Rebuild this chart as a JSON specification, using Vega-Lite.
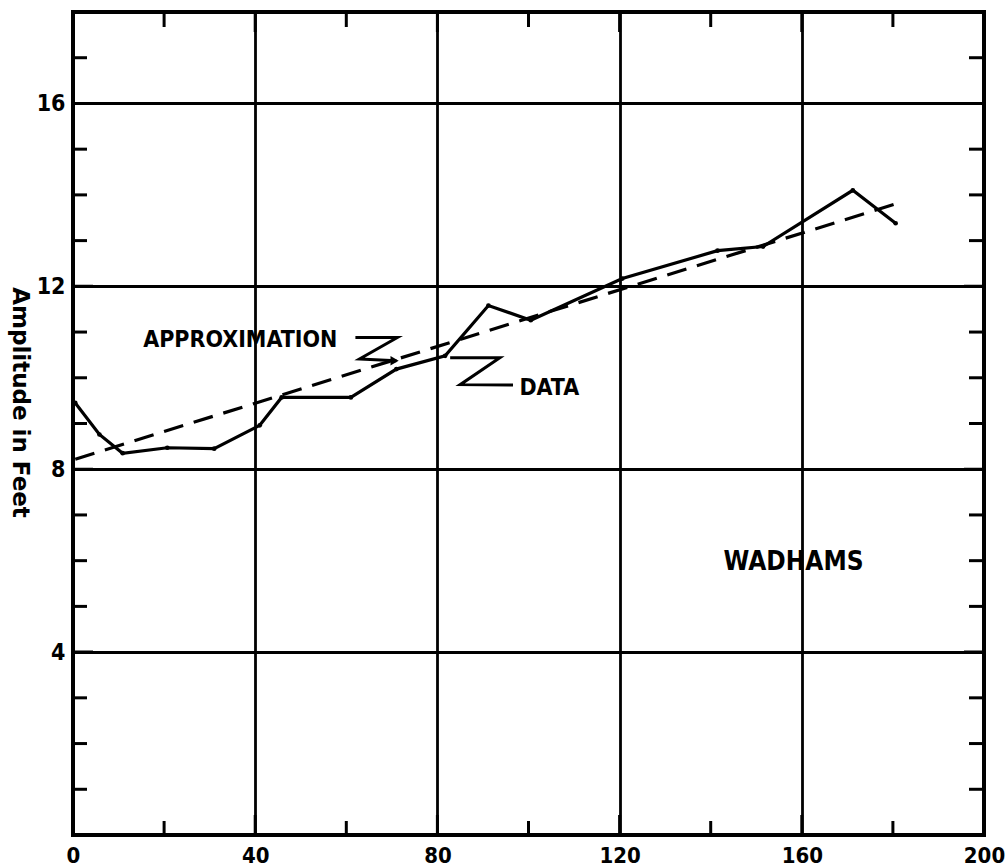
{
  "$schema": "https://vega.github.io/schema/vega-lite/v6.json",
  "width": 911,
  "height": 823,
  "autosize": {"type": "none"},
  "padding": {"left": 73, "top": 12, "right": 24, "bottom": 31},
  "background": "white",
  "config": {
    "view": {"stroke": "black", "strokeWidth": 4},
    "font": "DejaVu Sans"
  },
  "datasets": {
    "observed": [
      {"x": 0.5, "amplitude": 9.45},
      {"x": 5.8, "amplitude": 8.76},
      {"x": 10.9, "amplitude": 8.35},
      {"x": 20.7, "amplitude": 8.47},
      {"x": 31, "amplitude": 8.45},
      {"x": 41, "amplitude": 8.96},
      {"x": 45.8, "amplitude": 9.57},
      {"x": 61, "amplitude": 9.57},
      {"x": 71, "amplitude": 10.19},
      {"x": 81.7, "amplitude": 10.48},
      {"x": 91.2, "amplitude": 11.58},
      {"x": 100.5, "amplitude": 11.26},
      {"x": 120.6, "amplitude": 12.17},
      {"x": 141.5, "amplitude": 12.78},
      {"x": 151.5, "amplitude": 12.87},
      {"x": 171.2, "amplitude": 14.1},
      {"x": 180.6, "amplitude": 13.38}
    ],
    "approximation": [
      {"x": 0.5, "amplitude": 8.22},
      {"x": 181.5, "amplitude": 13.83}
    ],
    "xticks": [
      {"x": 20, "major": false},
      {"x": 40, "major": true},
      {"x": 60, "major": false},
      {"x": 80, "major": true},
      {"x": 100, "major": false},
      {"x": 120, "major": true},
      {"x": 140, "major": false},
      {"x": 160, "major": true},
      {"x": 180, "major": false}
    ],
    "yticks": [
      {"amplitude": 1, "major": false},
      {"amplitude": 2, "major": false},
      {"amplitude": 3, "major": false},
      {"amplitude": 4, "major": true},
      {"amplitude": 5, "major": false},
      {"amplitude": 6, "major": false},
      {"amplitude": 7, "major": false},
      {"amplitude": 8, "major": true},
      {"amplitude": 9, "major": false},
      {"amplitude": 10, "major": false},
      {"amplitude": 11, "major": false},
      {"amplitude": 12, "major": true},
      {"amplitude": 13, "major": false},
      {"amplitude": 14, "major": false},
      {"amplitude": 15, "major": false},
      {"amplitude": 16, "major": true},
      {"amplitude": 17, "major": false}
    ],
    "leaders": [
      {"leader": "approximation", "step": 1, "x": 62.0, "amplitude": 10.88},
      {"leader": "approximation", "step": 2, "x": 71.2, "amplitude": 10.88},
      {"leader": "approximation", "step": 3, "x": 62.9, "amplitude": 10.41},
      {"leader": "approximation", "step": 4, "x": 71.0, "amplitude": 10.37},
      {"leader": "data", "step": 1, "x": 82.8, "amplitude": 10.44},
      {"leader": "data", "step": 2, "x": 93.7, "amplitude": 10.44},
      {"leader": "data", "step": 3, "x": 85.0, "amplitude": 9.85},
      {"leader": "data", "step": 4, "x": 96.6, "amplitude": 9.84}
    ],
    "arrowheads": [
      {"x": 70.6, "amplitude": 10.37}
    ],
    "labels": [
      {"label": "APPROXIMATION", "x": 15.4, "amplitude": 10.82},
      {"label": "DATA", "x": 98.0, "amplitude": 9.78}
    ],
    "station": [
      {"label": "WADHAMS", "x": 158.2, "amplitude": 5.97}
    ]
  },
  "layer": [
    {
      "data": {"name": "observed"},
      "mark": {
        "type": "line",
        "color": "black",
        "strokeWidth": 3.2,
        "point": {"filled": true, "color": "black", "size": 22}
      },
      "encoding": {
        "x": {
          "field": "x",
          "type": "quantitative",
          "scale": {"domain": [0, 200], "nice": false, "zero": false},
          "axis": {
            "values": [0, 40, 80, 120, 160, 200],
            "title": null,
            "ticks": false,
            "domain": false,
            "grid": true,
            "gridColor": "black",
            "gridWidth": 2.8,
            "gridOpacity": 1,
            "labelFont": "DejaVu Sans Condensed",
            "labelFontWeight": "bold",
            "labelFontSize": 22,
            "labelColor": "black",
            "labelPadding": 10,
            "labelFlush": false,
            "labelOverlap": false
          }
        },
        "y": {
          "field": "amplitude",
          "type": "quantitative",
          "scale": {"domain": [0, 18], "nice": false, "zero": false},
          "axis": {
            "values": [4, 8, 12, 16],
            "title": "Amplitude in Feet",
            "titleAngle": 90,
            "titleX": -54,
            "titleY": 390,
            "titleAlign": "center",
            "titleBaseline": "middle",
            "titleFont": "DejaVu Sans",
            "titleFontWeight": "bold",
            "titleFontSize": 23,
            "titleColor": "black",
            "ticks": false,
            "domain": false,
            "grid": true,
            "gridColor": "black",
            "gridWidth": 2.8,
            "gridOpacity": 1,
            "labelFont": "DejaVu Sans Condensed",
            "labelFontWeight": "bold",
            "labelFontSize": 23,
            "labelColor": "black",
            "labelPadding": 8,
            "labelFlush": false,
            "labelOverlap": false
          }
        }
      }
    },
    {
      "data": {"name": "approximation"},
      "mark": {"type": "line", "color": "black", "strokeWidth": 3.2, "strokeDash": [20, 11]},
      "encoding": {
        "x": {"field": "x", "type": "quantitative", "scale": {"domain": [0, 200], "nice": false, "zero": false}},
        "y": {"field": "amplitude", "type": "quantitative", "scale": {"domain": [0, 18], "nice": false, "zero": false}}
      }
    },
    {
      "data": {"name": "leaders"},
      "mark": {"type": "line", "color": "black", "strokeWidth": 3, "strokeJoin": "miter"},
      "encoding": {
        "x": {"field": "x", "type": "quantitative", "scale": {"domain": [0, 200], "nice": false, "zero": false}},
        "y": {"field": "amplitude", "type": "quantitative", "scale": {"domain": [0, 18], "nice": false, "zero": false}},
        "detail": {"field": "leader", "type": "nominal"},
        "order": {"field": "step", "type": "quantitative"}
      }
    },
    {
      "data": {"name": "arrowheads"},
      "mark": {"type": "point", "shape": "triangle-right", "filled": true, "color": "black", "size": 90, "opacity": 1},
      "encoding": {
        "x": {"field": "x", "type": "quantitative", "scale": {"domain": [0, 200], "nice": false, "zero": false}},
        "y": {"field": "amplitude", "type": "quantitative", "scale": {"domain": [0, 18], "nice": false, "zero": false}}
      }
    },
    {
      "data": {"name": "xticks"},
      "mark": {"type": "tick", "orient": "vertical", "color": "black", "thickness": 3, "clip": true, "opacity": 1},
      "encoding": {
        "x": {"field": "x", "type": "quantitative", "scale": {"domain": [0, 200], "nice": false, "zero": false}},
        "y": {"datum": 0, "type": "quantitative", "scale": {"domain": [0, 18], "nice": false, "zero": false}},
        "size": {"condition": {"test": "datum.major", "value": 40}, "value": 28}
      }
    },
    {
      "data": {"name": "xticks"},
      "mark": {"type": "tick", "orient": "vertical", "color": "black", "thickness": 3, "clip": true, "opacity": 1},
      "encoding": {
        "x": {"field": "x", "type": "quantitative", "scale": {"domain": [0, 200], "nice": false, "zero": false}},
        "y": {"datum": 18, "type": "quantitative", "scale": {"domain": [0, 18], "nice": false, "zero": false}},
        "size": {"condition": {"test": "datum.major", "value": 40}, "value": 30}
      }
    },
    {
      "data": {"name": "yticks"},
      "mark": {"type": "tick", "orient": "horizontal", "color": "black", "thickness": 3, "clip": true, "opacity": 1},
      "encoding": {
        "x": {"datum": 0, "type": "quantitative", "scale": {"domain": [0, 200], "nice": false, "zero": false}},
        "y": {"field": "amplitude", "type": "quantitative", "scale": {"domain": [0, 18], "nice": false, "zero": false}},
        "size": {"condition": {"test": "datum.major", "value": 40}, "value": 28}
      }
    },
    {
      "data": {"name": "yticks"},
      "mark": {"type": "tick", "orient": "horizontal", "color": "black", "thickness": 3, "clip": true, "opacity": 1},
      "encoding": {
        "x": {"datum": 200, "type": "quantitative", "scale": {"domain": [0, 200], "nice": false, "zero": false}},
        "y": {"field": "amplitude", "type": "quantitative", "scale": {"domain": [0, 18], "nice": false, "zero": false}},
        "size": {"condition": {"test": "datum.major", "value": 40}, "value": 30}
      }
    },
    {
      "data": {"name": "labels"},
      "mark": {"type": "text", "align": "left", "baseline": "middle", "font": "DejaVu Sans Condensed", "fontWeight": "bold", "fontSize": 23, "color": "black"},
      "encoding": {
        "x": {"field": "x", "type": "quantitative", "scale": {"domain": [0, 200], "nice": false, "zero": false}},
        "y": {"field": "amplitude", "type": "quantitative", "scale": {"domain": [0, 18], "nice": false, "zero": false}},
        "text": {"field": "label"}
      }
    },
    {
      "data": {"name": "station"},
      "mark": {"type": "text", "align": "center", "baseline": "middle", "font": "DejaVu Sans Condensed", "fontWeight": "bold", "fontSize": 26, "color": "black"},
      "encoding": {
        "x": {"field": "x", "type": "quantitative", "scale": {"domain": [0, 200], "nice": false, "zero": false}},
        "y": {"field": "amplitude", "type": "quantitative", "scale": {"domain": [0, 18], "nice": false, "zero": false}},
        "text": {"field": "label"}
      }
    }
  ]
}
